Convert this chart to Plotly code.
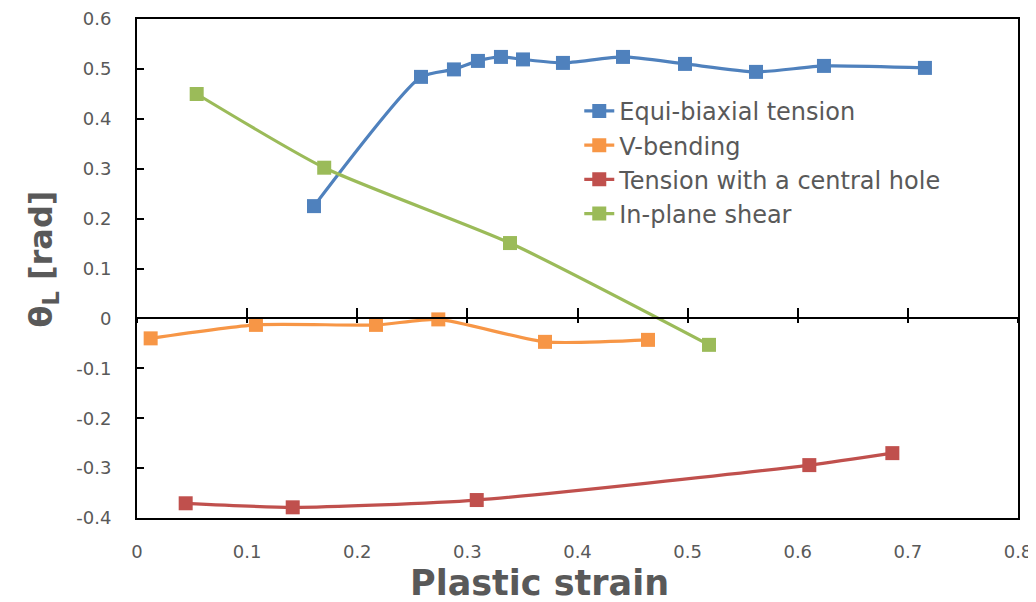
import plotly.graph_objects as go

# ---- data ----
equi_x = [0.1607, 0.2579, 0.2878, 0.3096, 0.3305, 0.3505, 0.3868, 0.4413, 0.4976, 0.5621, 0.6238, 0.7155]
equi_y = [0.225, 0.484, 0.499, 0.516, 0.524, 0.519, 0.512, 0.524, 0.510, 0.494, 0.506, 0.502]

vbend_x = [0.0124, 0.108, 0.217, 0.2736, 0.3705, 0.464]
vbend_y = [-0.040, -0.013, -0.013, -0.002, -0.047, -0.043]

hole_x = [0.0442, 0.1414, 0.3085, 0.6105, 0.6859]
hole_y = [-0.3705, -0.3786, -0.364, -0.294, -0.270]

shear_x = [0.0542, 0.170, 0.3387, 0.5194]
shear_y = [0.4497, 0.302, 0.151, -0.053]

series_names = ["Equi-biaxial tension", "V-bending", "Tension with a central hole", "In-plane shear"]
series_colors = ["#4F81BD", "#F79646", "#C0504D", "#9BBB59"]

x_tickvals = [0, 0.1, 0.2, 0.3, 0.4, 0.5, 0.6, 0.7, 0.8]
x_ticktext = ["0", "0.1", "0.2", "0.3", "0.4", "0.5", "0.6", "0.7", "0.8"]
y_tickvals = [-0.4, -0.3, -0.2, -0.1, 0, 0.1, 0.2, 0.3, 0.4, 0.5, 0.6]
y_ticktext = ["-0.4", "-0.3", "-0.2", "-0.1", "0", "0.1", "0.2", "0.3", "0.4", "0.5", "0.6"]

x_range = [0, 0.8]
y_range = [-0.4, 0.6]

fig = go.Figure()
for xs, ys, name, col in zip([equi_x, vbend_x, hole_x, shear_x],
                             [equi_y, vbend_y, hole_y, shear_y],
                             series_names, series_colors):
    fig.add_trace(go.Scatter(
        x=xs, y=ys, name=name, mode="lines+markers",
        line=dict(color=col, width=3.2, shape="spline", smoothing=0.6),
        marker=dict(symbol="square", size=14, color=col),
    ))

# invisible traces to keep the zero-line axes alive
for ax in ["x2", "x3"]:
    fig.add_trace(go.Scatter(x=[None], y=[None], xaxis=ax, showlegend=False, hoverinfo="skip"))

gray = "#595959"
zero_pos = (0 - y_range[0]) / (y_range[1] - y_range[0])
tick_font = dict(size=18, color=gray, family="DejaVu Sans, sans-serif")

# the page body adds an 8px margin, so the figure is sized to fit the window
fig.update_layout(
    width=1028, height=594,
    margin=dict(l=129, r=18, t=11, b=84, autoexpand=False),
    paper_bgcolor="white", plot_bgcolor="white",
    font=dict(family="DejaVu Sans, sans-serif", color=gray),
    showlegend=True,
    legend=dict(
        x=0.502, y=0.86, xanchor="left", yanchor="top",
        bgcolor="rgba(0,0,0,0)",
        font=dict(size=24, color=gray, family="DejaVu Sans, sans-serif"),
        tracegroupgap=0,
    ),
    xaxis=dict(
        range=x_range, tickvals=x_tickvals, ticktext=x_ticktext,
        showgrid=False, zeroline=False, automargin=False,
        showline=True, linecolor="black", linewidth=2, mirror=True,
        ticks="", ticklabelstandoff=16, tickfont=tick_font,
    ),
    xaxis2=dict(
        range=x_range, tickvals=x_tickvals, overlaying="x", anchor="free", position=zero_pos,
        showgrid=False, zeroline=False, showline=True, linecolor="black", linewidth=2,
        ticks="inside", ticklen=9, tickwidth=2, tickcolor="black", showticklabels=False,
        automargin=False,
    ),
    xaxis3=dict(
        range=x_range, tickvals=x_tickvals, overlaying="x", anchor="free", position=zero_pos,
        showgrid=False, zeroline=False, showline=False,
        ticks="outside", ticklen=4, tickwidth=2, tickcolor="black", showticklabels=False,
        automargin=False,
    ),
    yaxis=dict(
        range=y_range, tickvals=y_tickvals, ticktext=y_ticktext,
        showgrid=False, zeroline=False, automargin=False,
        showline=True, linecolor="black", linewidth=2, mirror=True,
        ticks="inside", ticklen=7, tickwidth=2, tickcolor="black",
        ticklabelstandoff=20, tickfont=tick_font,
    ),
    annotations=[
        dict(text="<b>Plastic strain</b>", xref="paper", yref="paper",
             x=0.4563, y=-0.13, xanchor="center", yanchor="middle", showarrow=False,
             font=dict(size=35, color=gray, family="DejaVu Sans, sans-serif")),
        dict(text="<b>θ<sub>L</sub> [rad]</b>", xref="paper", yref="paper",
             x=-0.1067, y=0.52, xanchor="center", yanchor="middle", showarrow=False,
             textangle=-90,
             font=dict(size=32, color=gray, family="DejaVu Sans, sans-serif")),
    ],
)

fig.write_html("out.html")
